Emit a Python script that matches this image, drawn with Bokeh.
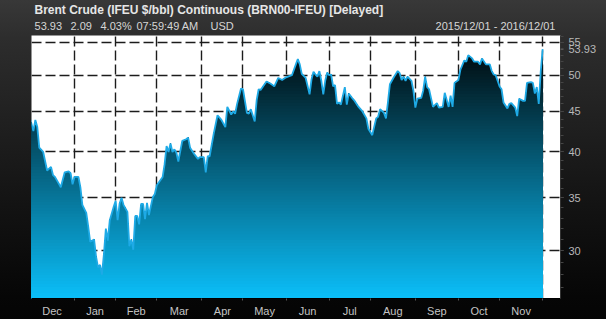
import numpy as np
from bokeh.plotting import figure
from bokeh.models import Range1d, FixedTicker, BasicTickFormatter, LinearAxis
from bokeh.embed import file_html
from bokeh.resources import INLINE

# ---------------- data ----------------
# trading day number (weekdays counted from 2015-12-01) and Brent close ($/bbl)
day = [0, 2, 3, 4, 5, 7, 9, 11, 12, 13, 16, 18, 20, 21, 22, 23, 25, 26, 27, 29,
       30, 31, 33, 34, 35, 36, 37, 38, 39, 40, 41, 43, 44, 45, 46, 47, 48, 50, 51, 52,
       53, 54, 55, 56, 57, 58, 59, 60, 61, 63, 64, 65, 67, 68, 69, 70, 71, 72, 73, 74,
       75, 76, 78, 80, 81, 82, 84, 86, 87, 89, 90, 91, 92, 94, 96, 98, 100, 101, 103, 104,
       105, 106, 108, 109, 111, 112, 113, 115, 116, 117, 118, 121, 123, 125, 127, 129, 131, 133, 134, 136,
       137, 138, 139, 141, 143, 144, 145, 146, 147, 148, 149, 150, 151, 152, 153, 154, 155, 156, 157, 158,
       159, 161, 162, 163, 165, 166, 168, 170, 172, 173, 175, 177, 178, 179, 181, 182, 183, 184, 186, 188,
       189, 190, 191, 192, 193, 195, 196, 197, 198, 200, 201, 202, 203, 204, 206, 208, 209, 211, 212, 214,
       215, 216, 217, 219, 220, 222, 223, 224, 226, 227, 229, 230, 231, 233, 235, 236, 237, 238, 240, 241,
       242, 244, 245, 246, 248, 249, 250, 252, 253, 254, 256, 257, 258, 259, 260, 261, 262]
price = [44.4, 42.5, 43.9, 43.0, 40.5, 40.0, 37.9, 38.3, 37.4, 37.2, 36.1, 37.7, 37.8, 37.6, 36.4, 37.2, 37.2, 36.1, 34.3, 33.5,
         32.2, 30.8, 31.0, 29.5, 28.6, 28.8, 28.0, 29.7, 32.0, 30.9, 32.8, 34.1, 34.7, 32.8, 34.4, 35.0, 34.3, 33.6, 30.4, 31.0,
         30.1, 33.2, 33.2, 32.4, 34.4, 34.4, 32.9, 34.5, 33.3, 35.1, 35.4, 36.3, 36.9, 37.2, 38.6, 40.7, 40.0, 41.0, 40.0, 40.3,
         39.9, 38.9, 41.3, 41.5, 41.7, 40.5, 39.8, 39.2, 39.4, 39.4, 37.7, 39.5, 39.5, 42.1, 44.5, 43.9, 43.0, 45.6, 44.6, 45.0,
         44.7, 46.0, 48.1, 48.0, 44.8, 44.7, 45.3, 43.7, 46.5, 48.0, 47.9, 49.1, 48.8, 48.4, 49.6, 49.3, 49.7, 49.9, 50.0, 51.6,
         52.4, 51.6, 50.2, 49.6, 47.3, 49.4, 50.5, 50.1, 49.8, 50.6, 49.2, 47.3, 49.2, 50.4, 50.0, 50.1, 48.4, 48.6, 46.0, 46.2,
         45.9, 48.3, 45.9, 47.4, 46.7, 46.4, 45.6, 45.0, 44.1, 42.8, 42.0, 44.1, 44.3, 45.3, 44.8, 44.1, 46.2, 48.7, 49.7, 50.6,
         50.3, 49.3, 49.8, 49.2, 49.8, 49.2, 47.8, 45.5, 46.7, 46.8, 47.8, 49.8, 48.3, 48.0, 45.6, 46.1, 45.5, 45.6, 47.5, 45.6,
         47.1, 45.6, 48.9, 49.3, 50.8, 52.2, 52.0, 53.0, 52.5, 52.0, 52.0, 51.6, 52.5, 51.6, 51.6, 50.6, 50.1, 50.0, 48.4, 48.0,
         46.2, 45.4, 46.0, 46.1, 45.5, 44.4, 46.7, 46.4, 46.4, 48.9, 49.0, 48.9, 47.4, 48.3, 46.0, 50.5, 53.93]

month_starts = ["2015-12-01", "2016-01-01", "2016-02-01", "2016-03-01", "2016-04-01", "2016-05-01",
                "2016-06-01", "2016-07-01", "2016-08-01", "2016-09-01", "2016-10-01", "2016-11-01",
                "2016-12-01"]
month_labels = ["Dec", "Jan", "Feb", "Mar", "Apr", "May", "Jun", "Jul", "Aug", "Sep", "Oct", "Nov"]
y_ticks = [30, 35, 40, 45, 50, 55]
y_minor = list(range(26, 57))

title_text = "Brent Crude (IFEU $/bbl) Continuous (BRN00-IFEU) [Delayed]"
quote_parts = ["53.93", "2.09", "4.03%", "07:59:49 AM", "USD", "2015/12/01 - 2016/12/01"]
last_text = "53.93"

# ---------------- layout ----------------
W, H = 606, 319
FL, FR, FT, FB = 31, 560, 34, 299
X0, X1 = 1.04, 271.1
Y0, Y1 = 26.12, 56.12
FONT = "Liberation Sans"
quote_centers_px = [47.8, 80.7, 115.6, 167.2, 221.6, 495.0]

bounds = [int(v) for v in np.busday_count(month_starts[0], month_starts)]
mids = [(bounds[i] + bounds[i + 1]) / 2 for i in range(12)]


def sx(px):
    return X0 + (px - FL) * (X1 - X0) / (FR - FL)


p = figure(width=W, height=H, output_backend="svg", toolbar_location=None,
           x_range=Range1d(X0, X1), y_range=Range1d(Y0, Y1), y_axis_type="log",
           y_axis_location="right", min_border_left=FL, min_border_right=W - FR,
           min_border_top=FT, min_border_bottom=H - FB)
p.border_fill_color = None
p.background_fill_color = "white"
p.outline_line_color = None
p.styles = {"background": "linear-gradient(to bottom, #383838 0%, #2d2d2d 12%, #151515 60%, #060606 93%, #040404 100%)"}

# bottom x axis (month names between month boundaries)
xa = p.below[0]
xa.ticker = FixedTicker(ticks=mids, minor_ticks=bounds)
xa.major_label_overrides = {m: lab for m, lab in zip(mids, month_labels)}
xa.major_tick_out = 0
xa.major_tick_in = 0
xa.minor_tick_out = 2
xa.minor_tick_in = 0
xa.minor_tick_line_color = "#555555"
xa.axis_line_color = "#000000"
xa.major_label_text_color = "#c4c4c4"
xa.major_label_text_font = FONT
xa.major_label_text_font_size = "11px"
xa.major_label_standoff = 4

# right y axis (log); the last price also gets a tick label
ya = p.right[0]
ya.ticker = FixedTicker(ticks=y_ticks + [price[-1]], minor_ticks=y_minor)
ya.formatter = BasicTickFormatter()
ya.major_label_overrides = {price[-1]: last_text}
ya.major_tick_out = 3
ya.major_tick_in = 0
ya.minor_tick_out = 3
ya.minor_tick_in = 0
ya.major_tick_line_color = "#555555"
ya.minor_tick_line_color = "#444444"
ya.axis_line_color = "#333333"
ya.major_label_text_color = "#b8b8b8"
ya.major_label_text_font = FONT
ya.major_label_text_font_size = "11px"
ya.major_label_standoff = 5

# header line 1 (title)
p.title.text = title_text
p.title.align = "left"
p.title.offset = 3
p.title.text_font = FONT
p.title.text_font_size = "12px"
p.title.text_font_style = "bold"
p.title.text_color = "#e6e6e6"
p.title.standoff = 0

# header line 2 (quote line) as a label-only axis above the frame
qa = LinearAxis()
q_ticks = [sx(v) for v in quote_centers_px]
qa.ticker = FixedTicker(ticks=q_ticks)
qa.major_label_overrides = {t: s for t, s in zip(q_ticks, quote_parts)}
qa.axis_line_color = None
qa.major_tick_line_color = None
qa.minor_tick_line_color = None
qa.major_tick_out = 0
qa.major_tick_in = 0
qa.minor_tick_out = 0
qa.minor_tick_in = 0
qa.major_label_standoff = 4
qa.major_label_text_font = FONT
qa.major_label_text_font_size = "11px"
qa.major_label_text_color = "#d6d6d6"
p.add_layout(qa, "above")

# grids
p.xgrid.ticker = FixedTicker(ticks=bounds)
p.ygrid.ticker = FixedTicker(ticks=y_ticks)
for g in (p.xgrid, p.ygrid):
    g.grid_line_color = "#1c1c1c"
    g.grid_line_dash = "10 4"
    g.grid_line_width = 1.4

# gradient-filled area (stacked bands, drawn top to bottom)
xs = np.array(day, dtype=float)
ys = np.array(price, dtype=float)
NB = 90
edges = Y0 * (Y1 / Y0) ** (np.arange(NB + 1) / NB)
top_c = np.array([0, 0, 0])
bot_c = np.array([11, 191, 249])
for k in range(NB, 0, -1):
    f = 1 - (k - 0.5) / NB
    c = (top_c + (bot_c - top_c) * f).round().astype(int)
    col = "#%02x%02x%02x" % tuple(c)
    p.varea(x=xs, y1=Y0 * 0.9, y2=np.minimum(ys, edges[k]), fill_color=col)

p.line(xs, ys, line_color="#1eaae6", line_width=1.8)

open("out.html", "w").write(file_html(p, INLINE))
